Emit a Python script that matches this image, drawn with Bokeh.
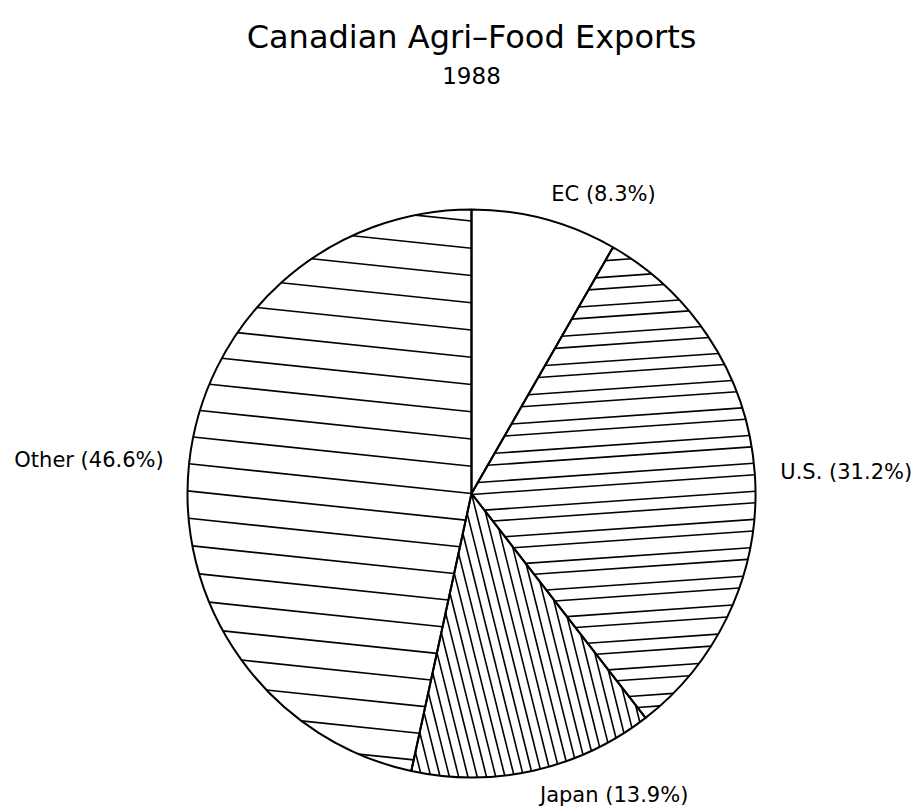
import numpy as np
from bokeh.plotting import figure
from bokeh.models import ColumnDataSource, Range1d
from bokeh.core.properties import value
from bokeh.embed import file_html
from bokeh.resources import INLINE

# ---------------- data ----------------
title_text = "Canadian Agri\u2013Food Exports"
subtitle_text = "1988"
regions = ["EC", "U.S.", "Japan", "Other"]
shares = [8.3, 31.2, 13.9, 46.6]

# ---------------- layout / style ----------------
W, H = 923, 811           # figure size (px)
R = 284.0                 # pie radius in px (1 data unit)
CX, CY = 471.0, 493.0     # pie centre in figure px
FONT = "DejaVu Sans"

# hatch style per slice: (line angle deg in data space, spacing px, offsets px) ; None = blank
hatch_styles = [
    None,
    (4.0, 28.0, [-1.0, -17.5]),
    (-76.0, 9.0, [0.0]),
    (-6.0, 27.1, [0.0]),
]


def px2data(fx, fy):
    return (fx - CX) / R, (CY - fy) / R


p = figure(width=W, height=H, output_backend="svg", toolbar_location=None,
           x_axis_location=None, y_axis_location=None,
           x_range=Range1d(-CX / R, (W - CX) / R),
           y_range=Range1d(-(H - CY) / R, CY / R),
           min_border=0, outline_line_color=None)
p.grid.visible = False
p.background_fill_color = "white"
p.border_fill_color = "white"

vals = np.array(shares, dtype=float)
frac = vals / vals.sum()
cum = np.cumsum(frac)
prev = np.concatenate([[0.0], cum[:-1]])
start = np.pi / 2 - 2 * np.pi * prev
end = np.pi / 2 - 2 * np.pi * cum
mid = (start + end) / 2

src = ColumnDataSource(dict(region=regions, start=start, end=end))
p.wedge(x=0, y=0, radius=1, start_angle="start", end_angle="end", direction="clock",
        source=src, fill_color="white", line_color=None)


def cross(a, b):
    return a[0] * b[1] - a[1] * b[0]


def clip_lines(a_start, a_end, ang_deg, spacing_px, offsets_px):
    th = np.deg2rad(ang_deg)
    u = np.array([np.cos(th), np.sin(th)])
    n = np.array([-np.sin(th), np.cos(th)])
    sp = spacing_px / R
    v0 = np.array([np.cos(a_start), np.sin(a_start)])
    v1 = np.array([np.cos(a_end), np.sin(a_end)])
    xs, ys = [], []
    for off in offsets_px:
        o = off / R
        k = np.arange(-int(1 / sp) - 2, int(1 / sp) + 3)
        for d in o + k * sp:
            if abs(d) >= 1:
                continue
            tmax = np.sqrt(1 - d * d)
            lo, hi = -tmax, tmax
            base = d * n
            # point must be counter-clockwise of end ray, clockwise of start ray
            for c0, c1 in ((cross(v1, base), cross(v1, u)), (-cross(v0, base), -cross(v0, u))):
                if abs(c1) < 1e-12:
                    if c0 < 0:
                        lo, hi = 1, 0
                    continue
                t = -c0 / c1
                if c1 > 0:
                    lo = max(lo, t)
                else:
                    hi = min(hi, t)
            if hi - lo > 1e-4:
                pa = base + lo * u
                pb = base + hi * u
                xs.append([pa[0], pb[0]])
                ys.append([pa[1], pb[1]])
    return xs, ys


hx, hy = [], []
for i, hs in enumerate(hatch_styles):
    if hs is None:
        continue
    xs, ys = clip_lines(start[i], end[i], *hs)
    hx += xs
    hy += ys
p.multi_line(xs=hx, ys=hy, line_color="black", line_width=1.6)

p.wedge(x=0, y=0, radius=1, start_angle="start", end_angle="end", direction="clock",
        source=src, fill_color=None, line_color="black", line_width=2)

# slice labels
LR = 1.09
lab_x = LR * np.cos(mid)
lab_y = LR * np.sin(mid)
labels = [f"{r} ({v:.1f}%)" for r, v in zip(regions, shares)]
align = ["left" if x >= 0 else "right" for x in lab_x]
lsrc = ColumnDataSource(dict(x=lab_x, y=lab_y, t=labels, a=align))
p.text(x="x", y="y", text="t", text_align="a", text_baseline="middle", source=lsrc,
       text_font=value(FONT), text_font_size="21px", text_color="black")

# titles
tx, ty = px2data(CX, 36)
p.text(x=[tx], y=[ty], text=[title_text], text_align="center", text_baseline="alphabetic",
       text_font=value(FONT), text_font_size="32px", text_color="black")
sx, sy = px2data(CX, 75)
p.text(x=[sx], y=[sy], text=[subtitle_text], text_align="center", text_baseline="alphabetic",
       text_font=value(FONT), text_font_size="23px", text_color="black")

open("out.html", "w").write(file_html(p, INLINE))
